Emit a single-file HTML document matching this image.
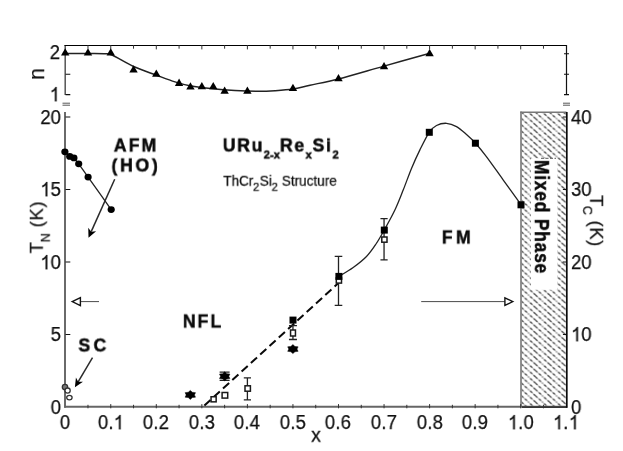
<!DOCTYPE html><html><head><meta charset="utf-8"><style>
html,body{margin:0;padding:0;background:#fff;}
#c{position:relative;width:623px;height:451px;overflow:hidden;background:#fff;font-family:"Liberation Sans",sans-serif;color:#111;}
.t{position:absolute;white-space:nowrap;line-height:1;will-change:transform;}
.t{-webkit-text-stroke:0.25px #111;}
.b{font-weight:bold;color:#0a0a0a;-webkit-text-stroke:0.5px #0a0a0a;}
sub{font-size:58%;vertical-align:baseline;position:relative;top:0.62em;letter-spacing:0;}
</style></head><body><div id="c">
<svg width="623" height="451" viewBox="0 0 623 451" style="position:absolute;left:0;top:0">
<defs><pattern id="h" width="14.00" height="6.30" patternUnits="userSpaceOnUse" x="521.5" y="112.3"><path d="M-21.00,-6.30 L0.00,12.60 M-14.00,-6.30 L7.00,12.60 M-7.00,-6.30 L14.00,12.60 M0.00,-6.30 L21.00,12.60 M7.00,-6.30 L28.00,12.60 M14.00,-6.30 L35.00,12.60" stroke="#b0b0b0" stroke-width="0.95" fill="none"/><path d="M-21.00,-6.30 L0.00,12.60 M-7.00,-6.30 L14.00,12.60 M7.00,-6.30 L28.00,12.60" stroke="#1c1c1c" stroke-width="1.0" fill="none" stroke-dasharray="2.590 2.119"/><path d="M-14.00,-6.30 L7.00,12.60 M0.00,-6.30 L21.00,12.60 M14.00,-6.30 L35.00,12.60" stroke="#1c1c1c" stroke-width="1.0" fill="none" stroke-dasharray="2.590 2.119" stroke-dashoffset="2.354"/></pattern></defs>
<rect x="521" y="112" width="45.5" height="295" fill="url(#h)"/>
<rect x="530.9" y="158.3" width="26.2" height="131.5" fill="#fff"/>
<line x1="521" y1="111.5" x2="521" y2="407" stroke="#858585" stroke-width="1.8"/>
<line x1="520.3" y1="112.2" x2="566.5" y2="112.2" stroke="#777" stroke-width="1.4"/>
<line x1="65.0" y1="112" x2="65.0" y2="407.7" stroke="#6a6a6a" stroke-width="2"/>
<line x1="64.2" y1="406.7" x2="566.5" y2="406.7" stroke="#666" stroke-width="2"/>
<line x1="522" y1="407.1" x2="567.2" y2="407.1" stroke="#1a1a1a" stroke-width="1.4"/>
<line x1="566.8" y1="112" x2="566.8" y2="407.8" stroke="#0a0a0a" stroke-width="1.7"/>
<line x1="65.2" y1="45" x2="65.2" y2="95" stroke="#555" stroke-width="1.5"/>
<line x1="64.5" y1="45.5" x2="567" y2="45.5" stroke="#000" stroke-width="1.1"/>
<line x1="566.5" y1="45" x2="566.5" y2="95" stroke="#111" stroke-width="1.2"/>
<path d="M87.98,408.3 v-3.5 M87.98,45.2 v3.5 M110.75,408.3 v-4.2 M110.75,45.2 v4.2 M133.53,408.3 v-3.5 M133.53,45.2 v3.5 M156.30,408.3 v-4.2 M156.30,45.2 v4.2 M179.07,408.3 v-3.5 M179.07,45.2 v3.5 M201.85,408.3 v-4.2 M201.85,45.2 v4.2 M224.62,408.3 v-3.5 M224.62,45.2 v3.5 M247.40,408.3 v-4.2 M247.40,45.2 v4.2 M270.18,408.3 v-3.5 M270.18,45.2 v3.5 M292.95,408.3 v-4.2 M292.95,45.2 v4.2 M315.73,408.3 v-3.5 M315.73,45.2 v3.5 M338.50,408.3 v-4.2 M338.50,45.2 v4.2 M361.27,408.3 v-3.5 M361.27,45.2 v3.5 M384.05,408.3 v-4.2 M384.05,45.2 v4.2 M406.82,408.3 v-3.5 M406.82,45.2 v3.5 M429.60,408.3 v-4.2 M429.60,45.2 v4.2 M452.38,408.3 v-3.5 M452.38,45.2 v3.5 M475.15,408.3 v-4.2 M475.15,45.2 v4.2 M497.93,408.3 v-3.5 M497.93,45.2 v3.5 M520.70,408.3 v-4.2 M520.70,45.2 v4.2 M543.48,408.3 v-3.5 M543.48,45.2 v3.5" stroke="#333" stroke-width="1" fill="none"/>
<path d="M65.5,334.50 h4.8 M566.5,334.50 h-3.6 M65.5,262.00 h4.8 M566.5,262.00 h-3.6 M65.5,189.50 h4.8 M566.5,189.50 h-3.6 M65.5,117.00 h4.8 M566.5,117.00 h-3.6 M65.5,94.60 h4.8 M65.5,74.20 h4.8 M569,94.60 h-5 M569,74.20 h-5 M569,53.80 h-5" stroke="#111" stroke-width="1.1" fill="none"/>
<path d="M62.5,103.2 h7.5 M62.5,105.2 h7.5 M563,103.2 h7 M563,105.2 h7" stroke="#444" stroke-width="0.9" fill="none"/>
<line x1="541" y1="158.3" x2="556" y2="158.3" stroke="#555" stroke-width="1" stroke-dasharray="3,1.5"/>
<path d="M65.00,53.50 C69.17,53.50 83.50,53.47 90.00,53.50 C96.50,53.53 100.33,53.45 104.00,53.70 C107.67,53.95 107.07,52.87 112.00,55.00 C116.93,57.13 126.18,63.13 133.60,66.50 C141.02,69.87 149.60,72.63 156.50,75.20 C163.40,77.77 169.42,80.13 175.00,81.90 C180.58,83.67 183.67,84.65 190.00,85.80 C196.33,86.95 205.50,88.02 213.00,88.80 C220.50,89.58 227.50,90.08 235.00,90.50 C242.50,90.92 251.33,91.27 258.00,91.30 C264.67,91.33 269.17,91.08 275.00,90.70 C280.83,90.32 287.17,89.92 293.00,89.00 C298.83,88.08 302.38,86.88 310.00,85.20 C317.62,83.52 326.37,82.08 338.70,78.90 C351.03,75.72 368.80,70.37 384.00,66.10 C399.20,61.83 422.25,55.43 429.90,53.30" stroke="#222" stroke-width="1.5" fill="none"/>
<path d="M65.20,48.30 l4.2,7.3 h-8.4 z" fill="#000"/>
<path d="M87.98,48.30 l4.2,7.3 h-8.4 z" fill="#000"/>
<path d="M110.75,48.30 l4.2,7.3 h-8.4 z" fill="#000"/>
<path d="M133.53,65.30 l4.2,7.3 h-8.4 z" fill="#000"/>
<path d="M156.30,69.50 l4.2,7.3 h-8.4 z" fill="#000"/>
<path d="M179.07,78.60 l4.2,7.3 h-8.4 z" fill="#000"/>
<path d="M190.46,82.20 l4.2,7.3 h-8.4 z" fill="#000"/>
<path d="M201.85,82.00 l4.2,7.3 h-8.4 z" fill="#000"/>
<path d="M213.24,82.00 l4.2,7.3 h-8.4 z" fill="#000"/>
<path d="M224.62,86.50 l4.2,7.3 h-8.4 z" fill="#000"/>
<path d="M247.40,86.50 l4.2,7.3 h-8.4 z" fill="#000"/>
<path d="M292.95,83.70 l4.2,7.3 h-8.4 z" fill="#000"/>
<path d="M338.50,73.90 l4.2,7.3 h-8.4 z" fill="#000"/>
<path d="M384.05,61.90 l4.2,7.3 h-8.4 z" fill="#000"/>
<path d="M429.60,48.90 l4.2,7.3 h-8.4 z" fill="#000"/>
<path d="M64.90,151.80 C65.54,152.41 68.50,155.59 69.70,156.40 C70.90,157.21 72.70,156.91 73.90,157.90 C75.10,158.89 76.81,161.24 78.70,163.80 C80.59,166.36 83.77,170.99 88.10,177.10 C92.43,183.21 108.12,205.27 111.20,209.60" stroke="#222" stroke-width="1.3" fill="none"/>
<ellipse cx="64.9" cy="151.8" rx="3.6" ry="3.35" fill="#000"/>
<ellipse cx="69.7" cy="156.4" rx="3.6" ry="3.35" fill="#000"/>
<ellipse cx="73.9" cy="157.9" rx="3.6" ry="3.35" fill="#000"/>
<ellipse cx="78.7" cy="163.8" rx="3.6" ry="3.35" fill="#000"/>
<ellipse cx="88.1" cy="177.1" rx="3.6" ry="3.35" fill="#000"/>
<ellipse cx="111.2" cy="209.6" rx="3.6" ry="3.35" fill="#000"/>
<line x1="114.70" y1="179.20" x2="91.20" y2="231.68" stroke="#2a2a2a" stroke-width="1.5"/>
<path d="M88.50,237.70 L88.25,227.73 L91.20,231.68 L96.10,231.24 z" fill="#000"/>
<line x1="92.50" y1="357.70" x2="78.13" y2="381.79" stroke="#2a2a2a" stroke-width="1.5"/>
<path d="M74.90,387.20 L75.94,377.46 L78.13,381.79 L82.98,381.66 z" fill="#000"/>
<line x1="80.7" y1="301.6" x2="99" y2="301.6" stroke="#4a4a4a" stroke-width="1"/>
<path d="M72.2,301.6 L80.4,297.6 L80.4,305.6 z" fill="#fff" stroke="#111" stroke-width="1.4"/>
<line x1="421.2" y1="301.6" x2="504.8" y2="301.6" stroke="#4a4a4a" stroke-width="1"/>
<path d="M512.8,301.6 L504.9,297.8 L504.9,305.4 z" fill="#fff" stroke="#111" stroke-width="1.4"/>
<circle cx="65.0" cy="387.0" r="2.7" fill="#777" stroke="#333" stroke-width="1.3"/>
<circle cx="67.6" cy="390.6" r="2.6" fill="#fff" stroke="#333" stroke-width="1.3"/>
<ellipse cx="69.4" cy="397.6" rx="2.7" ry="2.2" fill="#fff" stroke="#333" stroke-width="1.3"/>
<line x1="204.4" y1="405.6" x2="338.5" y2="283" stroke="#0a0a0a" stroke-width="2" stroke-dasharray="8.3,4.3"/>
<path d="M338.90,276.40 C341.28,274.92 348.60,270.82 353.20,267.50 C357.80,264.18 362.70,260.42 366.50,256.50 C370.30,252.58 373.03,248.42 376.00,244.00 C378.97,239.58 381.13,235.70 384.30,230.00 C387.47,224.30 391.83,216.50 395.00,209.80 C398.17,203.10 400.53,196.73 403.30,189.80 C406.07,182.87 408.83,174.85 411.60,168.20 C414.37,161.55 416.97,155.88 419.90,149.90 C422.83,143.92 426.43,136.37 429.20,132.30 C431.97,128.23 433.62,127.00 436.50,125.50 C439.38,124.00 443.17,123.12 446.50,123.30 C449.83,123.48 453.17,124.73 456.50,126.60 C459.83,128.47 463.33,131.73 466.50,134.50 C469.67,137.27 472.18,139.52 475.50,143.20 C478.82,146.88 481.80,150.50 486.40,156.60 C491.00,162.70 497.30,171.77 503.10,179.80 C508.90,187.83 518.18,200.63 521.20,204.80" stroke="#222" stroke-width="1.3" fill="none"/>
<path d="M224.62,372.10 V380.30 M219.62,372.10 h10.00 M219.62,380.30 h10.00" stroke="#222" stroke-width="1.3" fill="none"/>
<path d="M247.40,377.80 V399.90 M243.80,377.80 h7.20 M243.80,399.90 h7.20" stroke="#222" stroke-width="1.3" fill="none"/>
<path d="M292.95,325.60 V339.50 M288.95,325.60 h8.00 M288.95,339.50 h8.00" stroke="#222" stroke-width="1.3" fill="none"/>
<path d="M338.50,256.40 V305.40 M334.70,256.40 h7.60 M334.70,305.40 h7.60" stroke="#222" stroke-width="1.3" fill="none"/>
<path d="M384.05,218.60 V259.90 M380.45,218.60 h7.20 M380.45,259.90 h7.20" stroke="#222" stroke-width="1.3" fill="none"/>
<rect x="211.05" y="396.75" width="5.1" height="5.1" fill="#fff" stroke="#1a1a1a" stroke-width="1.5"/>
<rect x="222.10" y="392.50" width="5.6" height="5.6" fill="#fff" stroke="#1a1a1a" stroke-width="1.5"/>
<rect x="245.00" y="385.80" width="5.4" height="5.4" fill="#fff" stroke="#1a1a1a" stroke-width="1.5"/>
<rect x="290.55" y="330.00" width="4.9" height="6.0" fill="#fff" stroke="#1a1a1a" stroke-width="1.5"/>
<rect x="336.30" y="277.90" width="5.2" height="5.2" fill="#fff" stroke="#1a1a1a" stroke-width="1.5"/>
<rect x="381.80" y="237.00" width="5.2" height="5.2" fill="#fff" stroke="#1a1a1a" stroke-width="1.5"/>
<polygon points="190.30,399.40 188.26,397.55 185.10,397.15 186.22,394.90 185.10,392.65 188.26,392.25 190.30,390.40 192.34,392.25 195.50,392.65 194.38,394.90 195.50,397.15 192.34,397.55" fill="#000" stroke="#000" stroke-width="0.5" stroke-linejoin="round"/>
<polygon points="224.70,380.80 222.66,378.95 219.50,378.55 220.62,376.30 219.50,374.05 222.66,373.65 224.70,371.80 226.74,373.65 229.90,374.05 228.78,376.30 229.90,378.55 226.74,378.95" fill="#000" stroke="#000" stroke-width="0.5" stroke-linejoin="round"/>
<polygon points="292.90,353.60 290.86,351.75 287.70,351.35 288.82,349.10 287.70,346.85 290.86,346.45 292.90,344.60 294.94,346.45 298.10,346.85 296.98,349.10 298.10,351.35 294.94,351.75" fill="#000" stroke="#000" stroke-width="0.5" stroke-linejoin="round"/>
<rect x="289.50" y="316.60" width="7.0" height="7.0" fill="#000"/>
<rect x="335.40" y="272.90" width="7.0" height="7.0" fill="#000"/>
<rect x="380.80" y="226.60" width="7.0" height="7.0" fill="#000"/>
<rect x="425.80" y="128.80" width="7.0" height="7.0" fill="#000"/>
<rect x="471.90" y="139.70" width="7.0" height="7.0" fill="#000"/>
<rect x="517.50" y="201.30" width="7.0" height="7.0" fill="#000"/>
</svg>
<div class="t " style="left:64.7px;top:422.0px;font-size:20px;letter-spacing:0px;transform-origin:center;transform:translate(-50%,-50%) scaleX(0.93);">0</div>
<div class="t " style="left:110.7px;top:422.0px;font-size:20px;letter-spacing:0.2px;transform-origin:center;transform:translate(-50%,-50%) scaleX(0.93);">0.<svg style="display:inline-block;width:0.556em;height:0.719em;vertical-align:baseline;overflow:visible" viewBox="0 0 1139 1472"><path transform="translate(0,1472) scale(1,-1)" d="M763 0H583V1147Q518 1085 412.5 1023Q307 961 223 930V1104Q374 1175 487 1276Q600 1377 647 1472H763Z" fill="#111" stroke="#111" stroke-width="26"/></svg></div>
<div class="t " style="left:156.2px;top:422.0px;font-size:20px;letter-spacing:0.2px;transform-origin:center;transform:translate(-50%,-50%) scaleX(0.93);">0.2</div>
<div class="t " style="left:201.8px;top:422.0px;font-size:20px;letter-spacing:0.2px;transform-origin:center;transform:translate(-50%,-50%) scaleX(0.93);">0.3</div>
<div class="t " style="left:247.3px;top:422.0px;font-size:20px;letter-spacing:0.2px;transform-origin:center;transform:translate(-50%,-50%) scaleX(0.93);">0.4</div>
<div class="t " style="left:292.8px;top:422.0px;font-size:20px;letter-spacing:0.2px;transform-origin:center;transform:translate(-50%,-50%) scaleX(0.93);">0.5</div>
<div class="t " style="left:338.4px;top:422.0px;font-size:20px;letter-spacing:0.2px;transform-origin:center;transform:translate(-50%,-50%) scaleX(0.93);">0.6</div>
<div class="t " style="left:383.9px;top:422.0px;font-size:20px;letter-spacing:0.2px;transform-origin:center;transform:translate(-50%,-50%) scaleX(0.93);">0.7</div>
<div class="t " style="left:429.5px;top:422.0px;font-size:20px;letter-spacing:0.2px;transform-origin:center;transform:translate(-50%,-50%) scaleX(0.93);">0.8</div>
<div class="t " style="left:475.0px;top:422.0px;font-size:20px;letter-spacing:0.2px;transform-origin:center;transform:translate(-50%,-50%) scaleX(0.93);">0.9</div>
<div class="t " style="left:520.6px;top:422.0px;font-size:20px;letter-spacing:0.2px;transform-origin:center;transform:translate(-50%,-50%) scaleX(0.93);"><svg style="display:inline-block;width:0.556em;height:0.719em;vertical-align:baseline;overflow:visible" viewBox="0 0 1139 1472"><path transform="translate(0,1472) scale(1,-1)" d="M763 0H583V1147Q518 1085 412.5 1023Q307 961 223 930V1104Q374 1175 487 1276Q600 1377 647 1472H763Z" fill="#111" stroke="#111" stroke-width="26"/></svg>.0</div>
<div class="t " style="left:566.2px;top:422.0px;font-size:20px;letter-spacing:0.2px;transform-origin:center;transform:translate(-50%,-50%) scaleX(0.93);"><svg style="display:inline-block;width:0.556em;height:0.719em;vertical-align:baseline;overflow:visible" viewBox="0 0 1139 1472"><path transform="translate(0,1472) scale(1,-1)" d="M763 0H583V1147Q518 1085 412.5 1023Q307 961 223 930V1104Q374 1175 487 1276Q600 1377 647 1472H763Z" fill="#111" stroke="#111" stroke-width="26"/></svg>.<svg style="display:inline-block;width:0.556em;height:0.719em;vertical-align:baseline;overflow:visible" viewBox="0 0 1139 1472"><path transform="translate(0,1472) scale(1,-1)" d="M763 0H583V1147Q518 1085 412.5 1023Q307 961 223 930V1104Q374 1175 487 1276Q600 1377 647 1472H763Z" fill="#111" stroke="#111" stroke-width="26"/></svg></div>
<div class="t " style="left:60.8px;top:406.8px;font-size:20px;letter-spacing:0px;transform-origin:right center;transform:translate(-100%,-50%) scaleX(0.93);">0</div>
<div class="t " style="left:60.8px;top:334.3px;font-size:20px;letter-spacing:0px;transform-origin:right center;transform:translate(-100%,-50%) scaleX(0.93);">5</div>
<div class="t " style="left:60.8px;top:261.8px;font-size:20px;letter-spacing:0px;transform-origin:right center;transform:translate(-100%,-50%) scaleX(0.93);"><svg style="display:inline-block;width:0.556em;height:0.719em;vertical-align:baseline;overflow:visible" viewBox="0 0 1139 1472"><path transform="translate(0,1472) scale(1,-1)" d="M763 0H583V1147Q518 1085 412.5 1023Q307 961 223 930V1104Q374 1175 487 1276Q600 1377 647 1472H763Z" fill="#111" stroke="#111" stroke-width="26"/></svg>0</div>
<div class="t " style="left:60.8px;top:189.3px;font-size:20px;letter-spacing:0px;transform-origin:right center;transform:translate(-100%,-50%) scaleX(0.93);"><svg style="display:inline-block;width:0.556em;height:0.719em;vertical-align:baseline;overflow:visible" viewBox="0 0 1139 1472"><path transform="translate(0,1472) scale(1,-1)" d="M763 0H583V1147Q518 1085 412.5 1023Q307 961 223 930V1104Q374 1175 487 1276Q600 1377 647 1472H763Z" fill="#111" stroke="#111" stroke-width="26"/></svg>5</div>
<div class="t " style="left:60.8px;top:116.8px;font-size:20px;letter-spacing:0px;transform-origin:right center;transform:translate(-100%,-50%) scaleX(0.93);">20</div>
<div class="t " style="left:60.4px;top:52.3px;font-size:20px;letter-spacing:0px;transform-origin:right center;transform:translate(-100%,-50%) scaleX(0.93);">2</div>
<div class="t " style="left:60.4px;top:94.2px;font-size:20px;letter-spacing:0px;transform-origin:right center;transform:translate(-100%,-50%) scaleX(0.93);"><svg style="display:inline-block;width:0.556em;height:0.719em;vertical-align:baseline;overflow:visible" viewBox="0 0 1139 1472"><path transform="translate(0,1472) scale(1,-1)" d="M763 0H583V1147Q518 1085 412.5 1023Q307 961 223 930V1104Q374 1175 487 1276Q600 1377 647 1472H763Z" fill="#111" stroke="#111" stroke-width="26"/></svg></div>
<div class="t " style="left:571.2px;top:406.8px;font-size:20px;letter-spacing:0px;transform-origin:left center;transform:translate(0,-50%) scaleX(0.93);">0</div>
<div class="t " style="left:571.2px;top:334.3px;font-size:20px;letter-spacing:0px;transform-origin:left center;transform:translate(0,-50%) scaleX(0.93);"><svg style="display:inline-block;width:0.556em;height:0.719em;vertical-align:baseline;overflow:visible" viewBox="0 0 1139 1472"><path transform="translate(0,1472) scale(1,-1)" d="M763 0H583V1147Q518 1085 412.5 1023Q307 961 223 930V1104Q374 1175 487 1276Q600 1377 647 1472H763Z" fill="#111" stroke="#111" stroke-width="26"/></svg>0</div>
<div class="t " style="left:571.2px;top:261.8px;font-size:20px;letter-spacing:0px;transform-origin:left center;transform:translate(0,-50%) scaleX(0.93);">20</div>
<div class="t " style="left:571.2px;top:189.3px;font-size:20px;letter-spacing:0px;transform-origin:left center;transform:translate(0,-50%) scaleX(0.93);">30</div>
<div class="t " style="left:571.2px;top:116.8px;font-size:20px;letter-spacing:0px;transform-origin:left center;transform:translate(0,-50%) scaleX(0.93);">40</div>
<div class="t " style="left:316.2px;top:434.6px;font-size:20.5px;letter-spacing:0px;transform-origin:center;transform:translate(-50%,-50%) scaleX(0.95);">x</div>
<div class="t " style="left:36.8px;top:74.4px;font-size:22px;letter-spacing:0px;transform-origin:center;transform:translate(-50%,-50%) rotate(-90deg) scaleX(0.95);">n</div>
<div class="t " style="left:36.5px;top:226.6px;font-size:18.5px;letter-spacing:0.7px;transform-origin:center;transform:translate(-50%,-50%) rotate(-90deg) scaleX(1);">T<sub style="font-size:68%;top:0.56em;margin-left:-1px">N</sub> (K)</div>
<div class="t " style="left:596.0px;top:221.2px;font-size:18.5px;letter-spacing:0.5px;transform-origin:center;transform:translate(-50%,-50%) rotate(90deg) scaleX(1);">T<sub style="font-size:68%;top:0.56em;margin-left:-1px">C</sub> (K)</div>
<div class="t b" style="left:136.4px;top:145.2px;font-size:19px;letter-spacing:2.2px;transform-origin:center;transform:translate(-50%,-50%) scaleX(0.93);">AFM</div>
<div class="t b" style="left:135.9px;top:164.9px;font-size:19px;letter-spacing:2.9px;transform-origin:center;transform:translate(-50%,-50%) scaleX(0.93);">(HO)</div>
<div class="t b" style="left:281.3px;top:145.0px;font-size:19px;letter-spacing:1.8px;transform-origin:center;transform:translate(-50%,-50%) scaleX(0.93);">URu<sub style="display:inline-block;transform:scaleX(1.08);transform-origin:left center;margin-right:0.08em;font-size:59%;top:0.59em">2-x</sub>Re<sub style="display:inline-block;transform:scaleX(1.08);transform-origin:left center;margin-right:0.08em;font-size:59%;top:0.59em">x</sub>Si<sub style="display:inline-block;transform:scaleX(1.08);transform-origin:left center;margin-right:0.08em;font-size:59%;top:0.59em">2</sub></div>
<div class="t " style="left:279.8px;top:181.3px;font-size:14.6px;letter-spacing:0px;transform-origin:center;transform:translate(-50%,-50%) scaleX(0.93);">ThCr<sub style="display:inline-block;transform:scaleX(1.1);transform-origin:left center;margin-right:0.05em;font-size:76%;top:0.44em">2</sub>Si<sub style="display:inline-block;transform:scaleX(1.1);transform-origin:left center;margin-right:0.05em;font-size:76%;top:0.44em">2</sub> Structure</div>
<div class="t b" style="left:458.3px;top:237.4px;font-size:19px;letter-spacing:3.7px;transform-origin:center;transform:translate(-50%,-50%) scaleX(0.93);">FM</div>
<div class="t b" style="left:202.5px;top:321.4px;font-size:19px;letter-spacing:2.15px;transform-origin:center;transform:translate(-50%,-50%) scaleX(0.93);">NFL</div>
<div class="t b" style="left:94.1px;top:344.7px;font-size:19px;letter-spacing:3.6px;transform-origin:center;transform:translate(-50%,-50%) scaleX(0.93);">SC</div>
<div class="t b" style="left:541.4px;top:217.0px;font-size:19.8px;letter-spacing:0.9px;transform-origin:center;transform:translate(-50%,-50%) rotate(90deg) scaleX(0.88);">Mixed Phase</div>
</div></body></html>
